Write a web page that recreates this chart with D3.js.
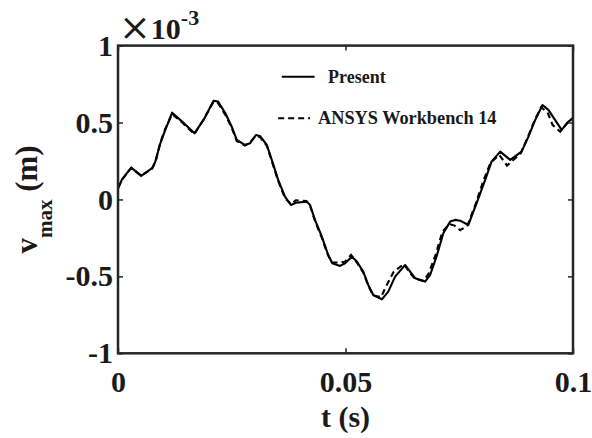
<!DOCTYPE html>
<html>
<head>
<meta charset="utf-8">
<script src="https://cdn.jsdelivr.net/npm/d3@7"></script>
<style>
  html, body { margin: 0; padding: 0; background: #fff; }
  svg { display: block; }
  text { font-family: "Liberation Serif", "Times New Roman", serif; fill: #1a1a1a; }
</style>
</head>
<body>
<svg id="chart" width="592" height="438"></svg>
<script>
// ---- data (t in s, v in units of 1e-3 m) ----
const presentT = [0, 0.0009, 0.0029, 0.0051, 0.0075, 0.0082, 0.0093, 0.0104, 0.0119, 0.0141, 0.0168, 0.0188, 0.0210, 0.0220, 0.0236, 0.0250, 0.0261, 0.0279, 0.0290, 0.0303, 0.0312, 0.0327, 0.0338, 0.0352, 0.0367, 0.0380, 0.0391, 0.0415, 0.0422, 0.0433, 0.0448, 0.0462, 0.0471, 0.0488, 0.0499, 0.0514, 0.0525, 0.0539, 0.0550, 0.0561, 0.0580, 0.0594, 0.0609, 0.0631, 0.0642, 0.0653, 0.0675, 0.0686, 0.0700, 0.0715, 0.0730, 0.0741, 0.0752, 0.0770, 0.0788, 0.0807, 0.0821, 0.0840, 0.0862, 0.0887, 0.0902, 0.0917, 0.0933, 0.0946, 0.0975, 0.0990, 0.1000];
const presentV = [0.073, 0.131, 0.207, 0.153, 0.203, 0.246, 0.365, 0.452, 0.564, 0.506, 0.430, 0.517, 0.642, 0.636, 0.560, 0.473, 0.387, 0.354, 0.365, 0.419, 0.413, 0.354, 0.257, 0.127, 0.018, -0.036, -0.021, -0.014, -0.036, -0.133, -0.242, -0.361, -0.415, -0.432, -0.415, -0.372, -0.404, -0.469, -0.556, -0.621, -0.649, -0.599, -0.502, -0.426, -0.469, -0.512, -0.534, -0.491, -0.372, -0.220, -0.144, -0.133, -0.138, -0.166, -0.025, 0.127, 0.246, 0.311, 0.257, 0.311, 0.408, 0.517, 0.614, 0.582, 0.452, 0.506, 0.528];

const ansysT = [0, 0.0009, 0.0029, 0.0051, 0.0075, 0.0083, 0.0093, 0.0104, 0.0119, 0.0141, 0.0168, 0.0188, 0.0210, 0.0220, 0.0236, 0.0250, 0.0261, 0.0279, 0.0290, 0.0303, 0.0312, 0.0327, 0.0338, 0.0352, 0.0367, 0.0380, 0.0391, 0.0414, 0.0422, 0.0433, 0.0448, 0.0462, 0.0471, 0.0488, 0.0499, 0.0512, 0.0525, 0.0539, 0.0550, 0.0561, 0.0578, 0.0590, 0.0606, 0.0628, 0.0640, 0.0652, 0.0672, 0.0683, 0.0698, 0.0713, 0.0728, 0.0740, 0.0752, 0.0768, 0.0786, 0.0804, 0.0819, 0.0838, 0.0855, 0.0885, 0.0900, 0.0915, 0.0930, 0.0945, 0.0955, 0.0972, 0.0988, 0.1000];
const ansysV = [0.070, 0.130, 0.205, 0.155, 0.200, 0.250, 0.370, 0.460, 0.555, 0.500, 0.425, 0.520, 0.635, 0.625, 0.550, 0.465, 0.380, 0.350, 0.370, 0.415, 0.405, 0.350, 0.250, 0.120, 0.010, -0.030, -0.005, -0.010, -0.040, -0.140, -0.250, -0.365, -0.410, -0.410, -0.405, -0.360, -0.410, -0.475, -0.560, -0.625, -0.635, -0.560, -0.470, -0.420, -0.470, -0.515, -0.530, -0.480, -0.360, -0.210, -0.160, -0.170, -0.200, -0.170, -0.030, 0.130, 0.240, 0.290, 0.220, 0.300, 0.400, 0.510, 0.600, 0.560, 0.485, 0.440, 0.500, 0.530];

const xTicks = [0, 0.05, 0.1];
const xTickLabels = ["0", "0.05", "0.1"];
const yTicks = [-1, -0.5, 0, 0.5, 1];
const yTickLabels = ["-1", "-0.5", "0", "0.5", "1"];
const seriesNames = ["Present", "ANSYS Workbench 14"];

// ---- layout ----
const svg = d3.select("#chart");
const L = 118, R = 573, T = 45.6, B = 353.3;
const x = d3.scaleLinear().domain([0, 0.1]).range([L, R]);
const y = d3.scaleLinear().domain([-1, 1]).range([B, T]);
const axisColor = "#262626";

const line = d3.line().x(d => x(d[0])).y(d => y(d[1]));
const presentData = presentT.map((t, i) => [t, presentV[i]]);
const ansysData = ansysT.map((t, i) => [t, ansysV[i]]);

// dashed ANSYS first, solid Present on top
svg.append("path").datum(ansysData).attr("d", line)
  .attr("fill", "none").attr("stroke", "#000").attr("stroke-width", 2.1)
  .attr("stroke-dasharray", "6,4");
svg.append("path").datum(presentData).attr("d", line)
  .attr("fill", "none").attr("stroke", "#000").attr("stroke-width", 2.1)
  .attr("stroke-linejoin", "round");

// axes
function styleAxis(g) {
  g.select(".domain").remove();
  g.selectAll(".tick line").attr("stroke", axisColor).attr("stroke-width", 1.5);
  g.selectAll(".tick text").attr("font-family", "'Liberation Serif', 'Times New Roman', serif")
    .attr("font-weight", "bold").attr("font-size", 30).attr("fill", "#1a1a1a");
}
svg.append("g").attr("transform", `translate(0,${B})`)
  .call(d3.axisBottom(x).tickValues(xTicks).tickSize(-5).tickPadding(17)
    .tickFormat((d, i) => xTickLabels[i]))
  .call(styleAxis);
svg.append("g").attr("transform", `translate(0,${T})`)
  .call(d3.axisTop(x).tickValues(xTicks).tickSize(-5).tickFormat(""))
  .call(styleAxis);
svg.append("g").attr("transform", `translate(${L},0)`)
  .call(d3.axisLeft(y).tickValues(yTicks).tickSize(-5).tickPadding(5)
    .tickFormat((d, i) => yTickLabels[i]))
  .call(styleAxis);
svg.append("g").attr("transform", `translate(${R},0)`)
  .call(d3.axisRight(y).tickValues(yTicks).tickSize(-5).tickFormat(""))
  .call(styleAxis);

// frame
svg.append("rect").attr("x", L).attr("y", T).attr("width", R - L).attr("height", B - T)
  .attr("fill", "none").attr("stroke", axisColor).attr("stroke-width", 2.5);

// exponent label
const expo = svg.append("text").attr("x", 119).attr("y", 39);
expo.append("tspan").attr("font-size", 38).attr("font-weight", "normal").attr("font-family", "'DejaVu Serif', serif").attr("dy", 1).text("×");
expo.append("tspan").attr("font-size", 30).attr("font-weight", "bold").attr("dy", -1).attr("dx", 0).text("10");
expo.append("tspan").attr("font-size", 22).attr("font-weight", "bold").attr("dy", -14).text("-3");

// x label
svg.append("text").attr("x", (L + R) / 2).attr("y", 427)
  .attr("text-anchor", "middle").attr("font-size", 30).attr("font-weight", "bold")
  .text("t (s)");

// y label
const yl = svg.append("text")
  .attr("transform", `translate(37,${(T + B) / 2}) rotate(-90)`)
  .attr("text-anchor", "middle").attr("font-weight", "bold").attr("font-size", 31);
yl.append("tspan").text("v");
yl.append("tspan").attr("font-size", 21).attr("dy", 15).text("max");
yl.append("tspan").attr("dy", -15).text(" (m)");

// legend
const legend = svg.append("g");
legend.append("line").attr("x1", x(0.0360)).attr("x2", x(0.0432)).attr("y1", 76.7).attr("y2", 76.7)
  .attr("stroke", "#000").attr("stroke-width", 2);
legend.append("text").attr("x", 328).attr("y", 83).attr("font-size", 18).attr("font-weight", "bold")
  .text(seriesNames[0]);
legend.append("line").attr("x1", x(0.0352)).attr("x2", x(0.0422)).attr("y1", 118.3).attr("y2", 118.3)
  .attr("stroke", "#000").attr("stroke-width", 2).attr("stroke-dasharray", "6,4");
legend.append("text").attr("x", 318).attr("y", 123.5).attr("font-size", 18.3).attr("font-weight", "bold")
  .text(seriesNames[1]);
</script>
</body>
</html>
